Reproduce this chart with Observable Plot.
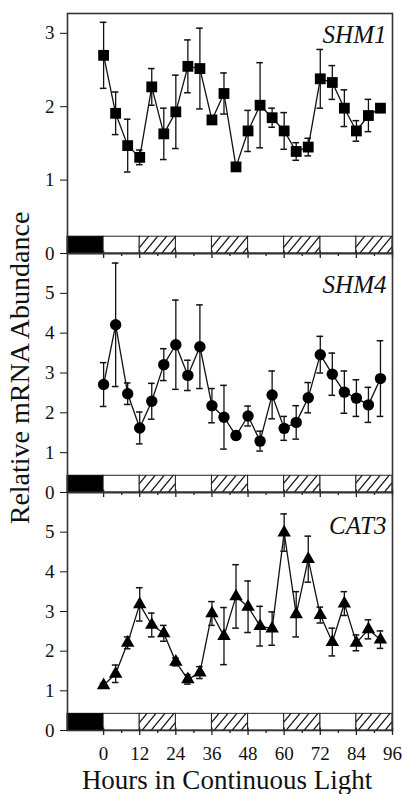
<!DOCTYPE html>
<html>
<head>
<meta charset="utf-8">
<script src="https://cdn.jsdelivr.net/npm/d3@7"></script>
<script src="https://cdn.jsdelivr.net/npm/@observablehq/plot@0.6"></script>
<style>
  html, body { margin: 0; padding: 0; background: white; }
  #chart { position: relative; width: 402px; height: 794px; overflow: hidden; }
  #chart svg { position: absolute; left: 0; }
</style>
</head>
<body>
<div id="chart"></div>
<script>
// ---- Data ----
const hours = [0, 4, 8, 12, 16, 20, 24, 28, 32, 36, 40, 44, 48, 52, 56, 60, 64, 68, 72, 76, 80, 84, 88, 92];

const shm1    = [2.70, 1.91, 1.47, 1.31, 2.27, 1.63, 1.93, 2.55, 2.52, 1.82, 2.18, 1.18, 1.67, 2.02, 1.85, 1.67, 1.39, 1.45, 2.38, 2.33, 1.98, 1.67, 1.88, 1.98];
const shm1Err = [0.45, 0.29, 0.36, 0.10, 0.25, 0.35, 0.50, 0.36, 0.55, 0.05, 0.28, 0.05, 0.28, 0.58, 0.13, 0.25, 0.12, 0.12, 0.40, 0.23, 0.25, 0.14, 0.22, 0.05];

const shm4    = [2.71, 4.21, 2.48, 1.62, 2.29, 3.21, 3.71, 2.94, 3.66, 2.18, 1.89, 1.43, 1.92, 1.29, 2.45, 1.61, 1.76, 2.38, 3.46, 2.97, 2.52, 2.37, 2.20, 2.86];
const shm4Err = [0.55, 1.55, 0.27, 0.40, 0.45, 0.40, 1.12, 0.38, 1.05, 0.43, 0.80, 0.10, 0.25, 0.25, 0.60, 0.30, 0.42, 0.38, 0.46, 0.53, 0.53, 0.46, 0.44, 0.95];

const cat3    = [1.14, 1.43, 2.21, 3.18, 2.66, 2.45, 1.73, 1.29, 1.46, 2.95, 2.38, 3.38, 3.12, 2.63, 2.57, 4.99, 2.93, 4.32, 2.91, 2.23, 3.20, 2.21, 2.55, 2.29];
const cat3Err = [0.05, 0.22, 0.15, 0.42, 0.30, 0.20, 0.10, 0.12, 0.15, 0.30, 0.72, 0.80, 0.65, 0.50, 0.42, 0.47, 0.57, 0.58, 0.20, 0.35, 0.30, 0.20, 0.24, 0.22];

const genes = ["SHM1", "SHM4", "CAT3"];
const yTicksTop = [0, 1, 2, 3];
const yTicksOther = [0, 1, 2, 3, 4, 5];
const xTickLabels = [0, 12, 24, 36, 48, 60, 72, 84, 96];
const minorTicks = [6, 18, 30, 42, 54, 66, 78, 90];

// light regime bar: dark, light, subjective night (hatched)
const periodStart = [-12, 0, 12, 24, 36, 48, 60, 72, 84];
const periodEnd   = [0, 12, 24, 36, 48, 60, 72, 84, 96];
const periodKind  = ["dark", "light", "night", "light", "night", "light", "night", "light", "night"];

const xTitle = "Hours in Continuous Light";
const yTitle = "Relative mRNA Abundance";

// ---- Build ----
const periods = periodStart.map((s, i) => ({start: s, end: periodEnd[i], kind: periodKind[i]}));
const FONT = "'Liberation Serif', 'Times New Roman', serif";

function panel({values, errs, gene, symbol, r, ymax, yTicks, top, mt, h, mb, idx, bottom, dyLabel}) {
  const data = hours.map((t, i) => ({t, v: values[i], e: errs[i]}));
  const barTop = ymax * 0.07;
  const hatchId = "hatch" + idx;
  const marks = [
    Plot.rect(periods.filter(d => d.kind === "dark"), {x1: "start", x2: "end", y1: 0, y2: barTop, fill: "black", stroke: "black", strokeWidth: 1}),
    Plot.rect(periods.filter(d => d.kind === "light"), {x1: "start", x2: "end", y1: 0, y2: barTop, fill: "white", stroke: "#222", strokeWidth: 1}),
    Plot.rect(periods.filter(d => d.kind === "night"), {x1: "start", x2: "end", y1: 0, y2: barTop, fill: `url(#${hatchId})`, stroke: "#222", strokeWidth: 1}),
    Plot.frame({stroke: "#333", strokeWidth: 1.6}),
    Plot.ruleX(xTickLabels, {x: d => d, y1: 0, y2: 0, insetTop: -2.5, insetBottom: -5, stroke: "#222", strokeWidth: 1.3}),
    Plot.ruleX(minorTicks, {x: d => d, y1: 0, y2: 0, insetTop: 0, insetBottom: -3, stroke: "#222", strokeWidth: 1.3}),
    // error bars
    Plot.ruleX(data, {x: "t", y1: d => d.v - d.e, y2: d => d.v + d.e, stroke: "#111", strokeWidth: 1.3}),
    Plot.ruleY(data, {y: d => d.v + d.e, x1: d => d.t - 1.1, x2: d => d.t + 1.1, stroke: "#111", strokeWidth: 1.5}),
    Plot.ruleY(data, {y: d => d.v - d.e, x1: d => d.t - 1.1, x2: d => d.t + 1.1, stroke: "#111", strokeWidth: 1.5}),
    Plot.line(data, {x: "t", y: "v", stroke: "#111", strokeWidth: 1.3}),
    Plot.dot(data, {x: "t", y: "v", symbol, r, fill: "black", stroke: "none"}),
    Plot.text([gene], {text: d => d, frameAnchor: "top-right", textAnchor: "end", lineAnchor: "bottom", dx: -6, dy: dyLabel, fontSize: 25, fontStyle: "italic", fill: "#111"})
  ];
  if (idx === 2) {
    marks.push(Plot.text([yTitle], {text: d => d, frameAnchor: "left", rotate: -90, textAnchor: "middle", lineAnchor: "middle", dx: -47, dy: -5, fontSize: 28, fill: "#111"}));
  }
  if (bottom) {
    marks.push(Plot.text([xTitle], {text: d => d, frameAnchor: "bottom", textAnchor: "middle", lineAnchor: "bottom", dx: -3, dy: 58, fontSize: 27, fill: "#111"}));
  }
  const svg = Plot.plot({
    width: 402,
    height: mt + h + mb,
    marginLeft: 67,
    marginRight: 10,
    marginTop: mt,
    marginBottom: mb,
    style: {background: "transparent", overflow: "visible", fontFamily: FONT, fontSize: "19px", color: "#111"},
    x: {domain: [-12, 96], ticks: xTickLabels, tickSize: 0, tickPadding: 16, label: null, axis: bottom ? "bottom" : null},
    y: {domain: [0, ymax], ticks: yTicks, tickSize: 7, tickPadding: 6, label: null, tickFormat: d => String(d)},
    marks
  });
  d3.select(svg).insert("defs", ":first-child").html(
    `<pattern id="${hatchId}" patternUnits="userSpaceOnUse" width="9" height="11">
       <rect width="9" height="11" fill="white"/>
       <path d="M0,11 L9,0 M-2,2.44 L2,-2.44 M7,13.44 L11,8.56" stroke="#111" stroke-width="1.2"/>
     </pattern>`
  );
  svg.style.top = top + "px";
  document.getElementById("chart").appendChild(svg);
}

panel({values: shm1, errs: shm1Err, gene: genes[0], symbol: "square", r: 6.1, ymax: 3.27, yTicks: yTicksTop, top: 0, mt: 13, h: 240, mb: 6, idx: 1, bottom: false, dyLabel: 29});
panel({values: shm4, errs: shm4Err, gene: genes[1], symbol: "circle", r: 5.7, ymax: 6, yTicks: yTicksOther, top: 247, mt: 6, h: 239, mb: 6, idx: 2, bottom: false, dyLabel: 39});
panel({values: cat3, errs: cat3Err, gene: genes[2], symbol: "triangle", r: 5, ymax: 6, yTicks: yTicksOther, top: 486, mt: 6, h: 238, mb: 64, idx: 3, bottom: true, dyLabel: 41});
</script>
</body>
</html>
